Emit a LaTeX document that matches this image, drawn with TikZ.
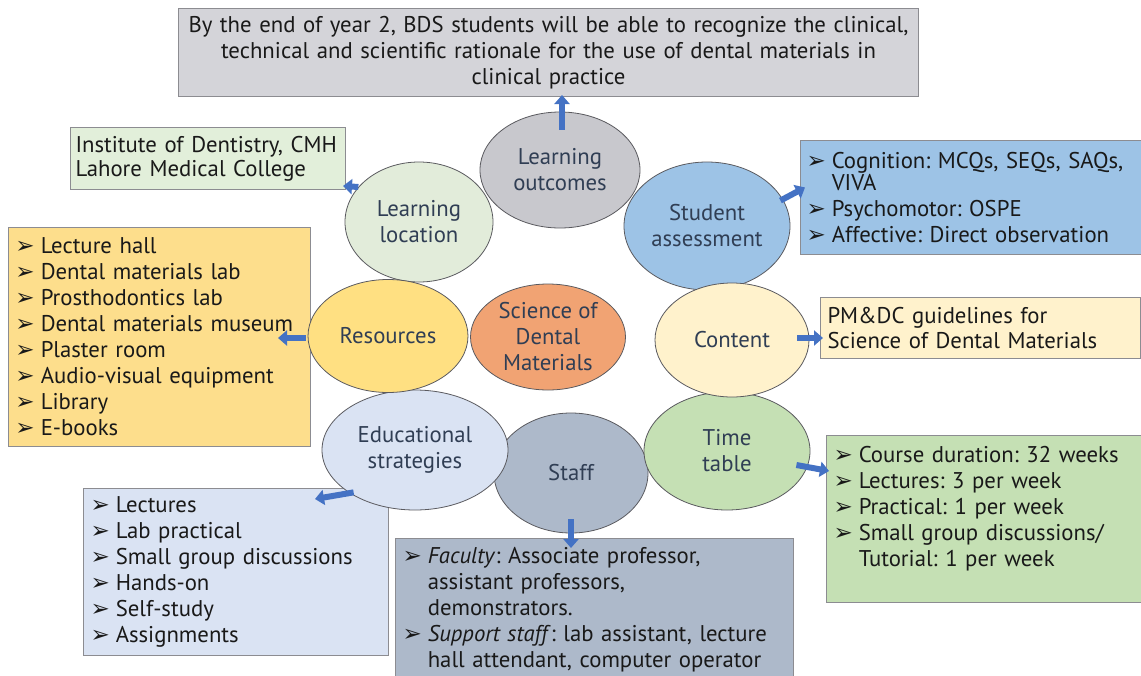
\documentclass[tikz,border=0pt]{standalone}
\usepackage{fontspec}
\setmainfont{PT Sans}
\newfontfamily\symfont{DejaVu Sans}
\usetikzlibrary{arrows.meta,calc,shapes.geometric}
\definecolor{topfill}{RGB}{212,212,217}
\definecolor{lofill}{RGB}{200,200,205}
\definecolor{llfill}{RGB}{226,236,218}
\definecolor{instfill}{RGB}{226,239,218}
\definecolor{safill}{RGB}{157,195,230}
\definecolor{resfill}{RGB}{253,222,140}
\definecolor{resefill}{RGB}{255,224,130}
\definecolor{scifill}{RGB}{241,163,115}
\definecolor{confill}{RGB}{255,242,204}
\definecolor{edfill}{RGB}{218,227,243}
\definecolor{stfill}{RGB}{173,185,202}
\definecolor{ttfill}{RGB}{197,224,180}
\definecolor{arrblue}{RGB}{68,114,196}
\definecolor{elltext}{RGB}{48,62,84}
\definecolor{ellline}{RGB}{90,90,95}
\definecolor{boxline}{RGB}{140,140,145}
\definecolor{txt}{RGB}{25,25,25}
\newcommand\bl{{\symfont\fontsize{23}{23}\selectfont ➢}\hspace{6pt}}
\newcommand\blind{\hphantom{\bl}}
\tikzset{
  ell/.style={ellipse, draw=ellline, line width=0.8pt, text=elltext, align=center,
    inner sep=0pt, font=\fontsize{22.75}{26}\selectfont},
  box/.style={rectangle, draw=boxline, line width=1pt, text=txt, align=left,
    anchor=north west, inner xsep=7pt, inner ysep=3pt, font=\fontsize{22.75}{26}\selectfont},
  barrow/.style={draw=arrblue, line width=6pt, -{Triangle[length=9pt,width=15pt]}}
}
\frenchspacing
\begin{document}
\frenchspacing
\begin{tikzpicture}[x=1pt,y=-1pt]
\clip (0,0) rectangle (1141,675);
\fill[white] (0,0) rectangle (1141,675);

% boxes
\node[box, fill=topfill, align=center, inner xsep=1pt, text width=738pt, minimum height=88pt] (top) at (178,8)
  {By the end of year 2, BDS students will be able to recognize the clinical,\\
   technical and scientific rationale for the use of dental materials in\\
   clinical practice};
\node[box, fill=instfill, inner xsep=5pt, text width=265pt, minimum height=62pt] (inst) at (70,127)
  {\mbox{Institute of Dentistry, CMH}\\[-2pt] Lahore Medical College};
\node[box, fill=safill, inner xsep=6pt, text width=333pt, minimum height=114pt] (sab) at (800,140)
  {\bl Cognition: MCQs, SEQs, SAQs,\\[-4pt]
   \blind VIVA\\
   \bl Psychomotor: OSPE\\
   \bl Affective: Direct observation};
\node[box, fill=resfill, text width=288pt, minimum height=219pt] (resb) at (8,227)
  {\bl Lecture hall\\ \bl Dental materials lab\\ \bl Prosthodontics lab\\
   \bl \mbox{Dental materials museum}\\ \bl Plaster room\\ \bl Audio-visual equipment\\
   \bl Library\\ \bl E-books};
\node[box, fill=confill, text width=306pt, minimum height=61pt] (cb) at (820,297)
  {PM\&DC guidelines for\\[-1pt] Science of Dental Materials};
\node[box, fill=edfill, text width=291pt, minimum height=167pt] (edb) at (83,488)
  {\bl Lectures\\ \bl Lab practical\\ \bl Small group discussions\\
   \bl Hands-on\\ \bl Self-study\\ \bl Assignments};
\node[box, fill=stfill, text width=384pt, minimum height=150pt] (sb) at (395,538)
  {\bl\textit{Faculty}: Associate professor,\\
   \blind assistant professors,\\
   \blind demonstrators.\\
   \bl\textit{Support staff}: lab assistant, lecture\\
   \blind hall attendant, computer operator\\[-14pt]\mbox{}};
\node[box, fill=ttfill, text width=306pt, minimum height=167pt] (tb) at (826,435)
  {\bl Course duration: 32 weeks\\ \bl Lectures: 3 per week\\ \bl Practical: 1 per week\\
   \bl Small group discussions/\\ \blind Tutorial: 1 per week\\ \mbox{}};

% ellipses
\node[ell, fill=stfill, minimum width=154pt, minimum height=120pt] (st) at (571,473) {Staff};
\node[ell, fill=edfill, minimum width=186pt, minimum height=120pt] (ed) at (415,450) {Educational\\strategies};
\node[ell, fill=ttfill, minimum width=166pt, minimum height=118pt] (tt) at (727,451) {Time\\table};
\node[ell, fill=lofill, minimum width=160pt, minimum height=116pt] (lo) at (560,170) {Learning\\outcomes};
\node[ell, fill=llfill, minimum width=148pt, minimum height=120pt] (ll) at (419,222) {Learning\\location};
\node[ell, fill=safill, minimum width=166pt, minimum height=128pt] (sa) at (707,226) {Student\\assessment};
\node[ell, fill=resefill, minimum width=160pt, minimum height=113pt] (res) at (388,336) {Resources};
\node[ell, fill=scifill, minimum width=155pt, minimum height=106pt] (sci) at (548,337) {Science of\\Dental\\Materials};
\node[ell, fill=confill, minimum width=154pt, minimum height=114pt] (con) at (732,340) {Content};

% arrows
\draw[barrow] ($(lo.north)+(2,18)$) -- ($(lo.north |- top.south)+(2,-2)$);
\draw[barrow] (ll.150) -- ($(inst.south east)+(-3,-4)$);
\draw[barrow] ($(sa.20)+(-2,2)$) -- ($(sab.west)+(5,-10)$);
\draw[barrow] ($(res.west)+(-2,2)$) -- ($(resb.east |- res.west)+(-33,2)$);
\draw[barrow] ($(con.east)+(-12,-2)$) -- ($(cb.west |- con.east)+(3,-2)$);
\draw[barrow] ($(ed.215)+(2,-2)$) -- ($(edb.north east)+(-74,11)$);
\draw[barrow] ($(st.south)+(0,-14)$) -- ($(st.south |- sb.north)+(0,10)$);
\draw[barrow] ($(tt.east)+(-14,14)$) -- ($(tb.west)+(3,-48)$);
\end{tikzpicture}
\end{document}
